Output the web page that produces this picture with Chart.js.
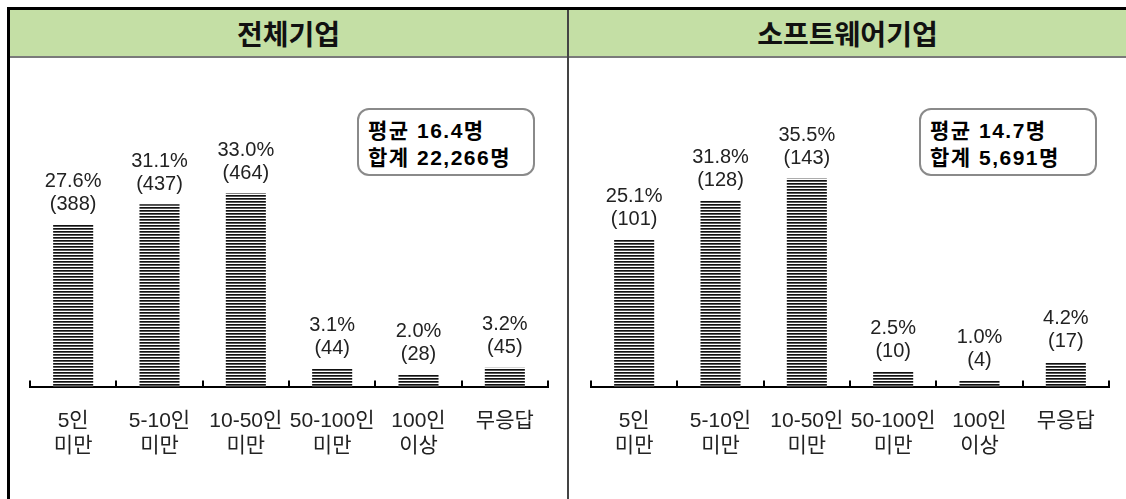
<!DOCTYPE html>
<html>
<head>
<meta charset="utf-8">
<script src="https://cdn.jsdelivr.net/npm/chart.js@4.4.1/dist/chart.umd.min.js"></script>
<style>
  html, body { margin: 0; padding: 0; background: #fff; }
  body { width: 1126px; height: 499px; position: relative; overflow: hidden;
    font-family: "Liberation Sans", "Noto Sans CJK KR", sans-serif; }
  .frame-top { position: absolute; left: 7px; top: 7px; width: 1119px; height: 3px; background: #000; }
  .frame-left { position: absolute; left: 7px; top: 7px; width: 3px; height: 492px; background: #000; }
  .header { position: absolute; top: 10px; height: 46px; background: #c4dfa5;
    border-bottom: 2px solid #7a7a7a; text-align: center; line-height: 46px;
    font-family: "Noto Sans CJK KR", sans-serif; font-weight: 700; font-size: 28px; color: #111; }
  .divider { position: absolute; left: 567px; top: 10px; width: 2px; height: 489px; background: #444; }
  .panel { position: absolute; top: 60px; }
  .note { position: absolute; top: 108px; width: 165px; height: 57px; border: 2px solid #8a8a8a;
    border-radius: 12px; background: #fff; padding: 7px 0 0 9px; font-weight: 700; font-size: 21px;
    letter-spacing: 1.5px; line-height: 27px; color: #000; white-space: nowrap; }
</style>
</head>
<body>
<div class="header" style="left:10px;width:557px">전체기업</div>
<div class="header" style="left:569px;width:557px">소프트웨어기업</div>
<div class="frame-top"></div>
<div class="frame-left"></div>
<div class="divider"></div>
<canvas id="c-total" class="panel" width="557" height="439" style="left:10px"></canvas>
<canvas id="c-sw" class="panel" width="557" height="439" style="left:569px"></canvas>
<div class="note" style="left:357px">평균 16.4명<br>합계 22,266명</div>
<div class="note" style="left:919px">평균 14.7명<br>합계 5,691명</div>
<script>
// categories (two-line tick labels)
const categories = [["5인", "미만"], ["5-10인", "미만"], ["10-50인", "미만"],
  ["50-100인", "미만"], ["100인", "이상"], "무응답"];

// 전체기업
const totalPct = [27.6, 31.1, 33.0, 3.1, 2.0, 3.2];
const totalCount = [388, 437, 464, 44, 28, 45];

// 소프트웨어기업
const swPct = [25.1, 31.8, 35.5, 2.5, 1.0, 4.2];
const swCount = [101, 128, 143, 10, 4, 17];

const Y_MAX = 50;
const FONT = "'Liberation Sans', 'Noto Sans CJK KR', sans-serif";

function stripes(ctx) {
  const c = document.createElement("canvas");
  c.width = 4; c.height = 3;
  const g = c.getContext("2d");
  g.fillStyle = "#fff"; g.fillRect(0, 0, 4, 3);
  g.fillStyle = "#111"; g.fillRect(0, 0, 4, 1);
  g.fillStyle = "#5a5a5a"; g.fillRect(0, 1, 4, 1);
  return ctx.createPattern(c, "repeat");
}

// "27.6%" / "(388)" above each bar
const valueLabels = {
  id: "valueLabels",
  afterDatasetsDraw(chart, args, opts) {
    const ctx = chart.ctx;
    const data = chart.data.datasets[0].data;
    ctx.save();
    ctx.font = "20px " + FONT;
    ctx.fillStyle = "#222";
    ctx.textAlign = "center";
    ctx.textBaseline = "middle";
    chart.getDatasetMeta(0).data.forEach((bar, i) => {
      ctx.fillText(data[i].toFixed(1) + "%", bar.x, bar.y - 43);
      ctx.fillText("(" + opts.counts[i] + ")", bar.x, bar.y - 20);
    });
    ctx.restore();
  },
};

// small tick marks pointing up from the axis at category boundaries
const upTicks = {
  id: "upTicks",
  afterDraw(chart) {
    const x = chart.scales.x;
    const n = chart.data.labels.length;
    const step = (x.right - x.left) / n;
    const ctx = chart.ctx;
    ctx.save();
    ctx.strokeStyle = "#000";
    ctx.lineWidth = 2;
    ctx.beginPath();
    for (let i = 0; i <= n; i++) {
      const px = Math.round(x.left + i * step);
      ctx.moveTo(px, x.top + 1);
      ctx.lineTo(px, x.top - 6);
    }
    ctx.stroke();
    ctx.restore();
  },
};

function drawPanel(id, pct, counts, padLeft, padRight) {
  const el = document.getElementById(id);
  const ctx = el.getContext("2d");
  return new Chart(el, {
    type: "bar",
    data: {
      labels: categories,
      datasets: [{ data: pct, backgroundColor: stripes(ctx), borderWidth: 0,
        barPercentage: 0.464, categoryPercentage: 1 }],
    },
    options: {
      responsive: false, animation: false,
      layout: { padding: { left: padLeft, right: padRight, top: 33.5, bottom: 18 } },
      plugins: { legend: { display: false }, tooltip: { enabled: false },
        valueLabels: { counts } },
      scales: {
        x: {
          grid: { display: false, drawTicks: false },
          border: { display: true, color: "#000", width: 2 },
          ticks: { color: "#222", padding: 22, maxRotation: 0, autoSkip: false,
            font: { family: FONT, size: 21, lineHeight: 1.2 } },
        },
        y: { display: false, min: 0, max: Y_MAX },
      },
    },
    plugins: [valueLabels, upTicks],
  });
}

drawPanel("c-total", totalPct, totalCount, 20, 19);
drawPanel("c-sw", swPct, swCount, 22, 17);
</script>
</body>
</html>
